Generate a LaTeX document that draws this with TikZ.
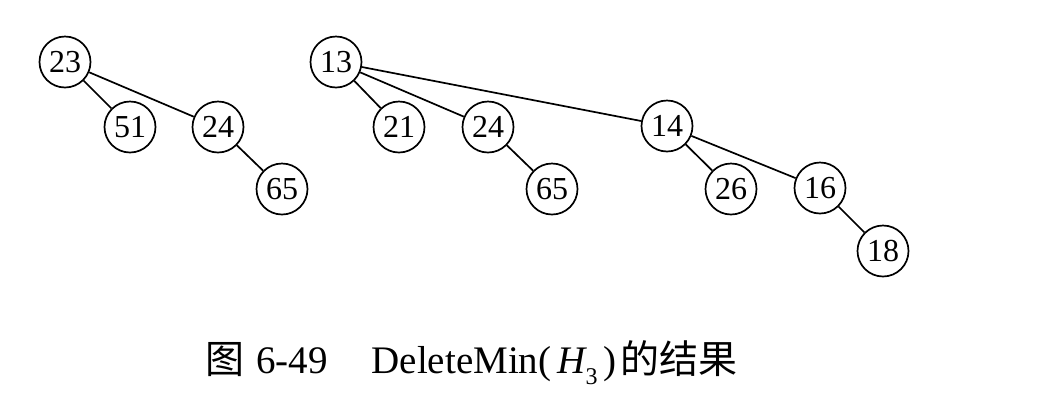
\documentclass[tikz,border=0pt]{standalone}
\usepackage{fontspec}
\setmainfont{Liberation Serif}
\newfontfamily\cjk{Noto Sans CJK SC}
\begin{document}
\begin{tikzpicture}[x=1pt,y=-1pt,
  hnode/.style={circle,draw,line width=1.7pt,minimum size=51pt,inner sep=0pt,font=\fontsize{32}{32}\selectfont},
  edge/.style={line width=1.7pt}]
\useasboundingbox (0,0) rectangle (1048,416);
\node[hnode] (a23) at (65,62) {23};
\node[hnode] (a51) at (130,127) {51};
\node[hnode] (a24) at (218,127) {24};
\node[hnode] (a65) at (282,189) {65};
\node[hnode] (b13) at (336,62) {13};
\node[hnode] (b21) at (399,127) {21};
\node[hnode] (b24) at (488,127) {24};
\node[hnode] (b65) at (552,189) {65};
\node[hnode] (b14) at (667,126) {14};
\node[hnode] (b26) at (731,189) {26};
\node[hnode] (b16) at (820,188) {16};
\node[hnode] (b18) at (883,251) {18};
\draw[edge] (a23) -- (a51);
\draw[edge] (a23) -- (a24);
\draw[edge] (a24) -- (a65);
\draw[edge] (b13) -- (b21);
\draw[edge] (b13) -- (b24);
\draw[edge] (b13) -- (b14);
\draw[edge] (b24) -- (b65);
\draw[edge] (b14) -- (b26);
\draw[edge] (b14) -- (b16);
\draw[edge] (b16) -- (b18);
\node[anchor=base west,inner sep=0pt,font=\fontsize{39}{39}\selectfont] (cap) at (205,373)
  {{\cjk 图}\hspace{12pt}6-49\hspace{44pt}DeleteMin(\hspace{6pt}{\itshape H}\raisebox{-0.3em}{\fontsize{24}{24}\selectfont 3}\hspace{6pt})\hspace{4pt}{\cjk 的结果}};
\end{tikzpicture}
\end{document}
